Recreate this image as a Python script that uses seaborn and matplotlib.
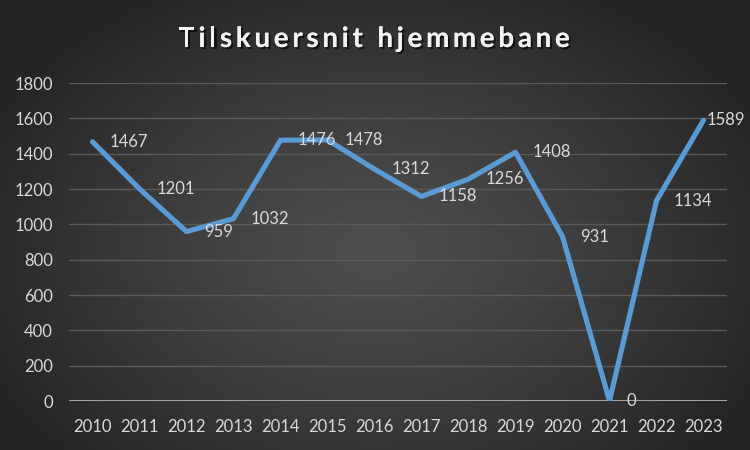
import numpy as np
import pandas as pd
import matplotlib
matplotlib.use("Agg")
import matplotlib.pyplot as plt
import matplotlib.patheffects as pe
import seaborn as sns

# --- Datos ---
years = ["2010", "2011", "2012", "2013", "2014", "2015", "2016",
         "2017", "2018", "2019", "2020", "2021", "2022", "2023"]
attendance = [1467, 1201, 959, 1032, 1476, 1478, 1312,
              1158, 1256, 1408, 931, 0, 1134, 1589]
yticks = [0, 200, 400, 600, 800, 1000, 1200, 1400, 1600, 1800]
title = "Tilskuersnit hjemmebane"

df = pd.DataFrame({"year": years, "attendance": attendance})

sns.set_theme(style="dark")
plt.rcParams['font.family'] = ['Lato', 'DejaVu Sans']

fig = plt.figure(figsize=(7.5, 4.5), dpi=100)

# --- Fondo con gradiente radial ---
bg = fig.add_axes([0, 0, 1, 1], zorder=-10)
yy, xx = np.mgrid[0:450, 0:750]
r = np.sqrt(((xx - 375) / 430.0) ** 2 + ((yy - 250) / 300.0) ** 2)
r = np.clip(r, 0, 1)
c0, c1 = 0x4d / 255, 0x24 / 255
img = c0 + (c1 - c0) * r ** 1.3
bg.imshow(np.dstack([img, img, img]), aspect='auto', extent=[0, 1, 0, 1])
bg.axis('off')

ax = fig.add_axes([69 / 750, 1 - 401 / 450, (727 - 69) / 750, (401 - 83) / 450])
ax.set_facecolor('none')

sns.lineplot(data=df, x="year", y="attendance", ax=ax, color='#5b9bd5',
             linewidth=3.7, sort=False)

for i, v in enumerate(attendance):
    dx = 12.5 if i < len(attendance) - 1 else 2  # la última etiqueta se pega al borde
    ax.annotate(str(v), (i, v), xytext=(dx, 0), textcoords='offset points',
                ha='left', va='center', color='#d9d9d9', fontsize=12)

ax.set_xlim(-0.5, len(years) - 0.5)
ax.set_ylim(0, 1800)
ax.set_yticks(yticks)
ax.set_xlabel('')
ax.set_ylabel('')
ax.grid(axis='y', color='#5a5a5a', linewidth=1)
ax.grid(axis='x', visible=False)
ax.axhline(0, color='#a0a0a0', linewidth=1.5, zorder=1)
for s in ax.spines.values():
    s.set_visible(False)
ax.tick_params(axis='both', colors='#d9d9d9', labelsize=12, length=0)
ax.tick_params(axis='y', pad=11.5)
ax.tick_params(axis='x', pad=13)

# --- Título con espaciado entre letras ---
shadow = [pe.withSimplePatchShadow(offset=(1.5, -1.5), shadow_rgbFace='black', alpha=0.6),
          pe.Normal()]
renderer = fig.canvas.get_renderer()
tracking = 3.7  # px extra entre letras
widths = []
for ch in title:
    t = fig.text(0, 0, ch if ch != ' ' else 'i', fontsize=20, fontweight='bold')
    widths.append(t.get_window_extent(renderer).width)
    t.remove()
total = sum(widths) + tracking * (len(title) - 1)
x0 = 374 - total / 2
for ch, w in zip(title, widths):
    if ch != ' ':
        fig.text(x0 / 750, 1 - 47 / 450, ch, ha='left', va='baseline',
                 color='#f2f2f2', fontsize=20, fontweight='bold', path_effects=shadow)
    x0 += w + tracking

fig.savefig('out.png', dpi=100)
